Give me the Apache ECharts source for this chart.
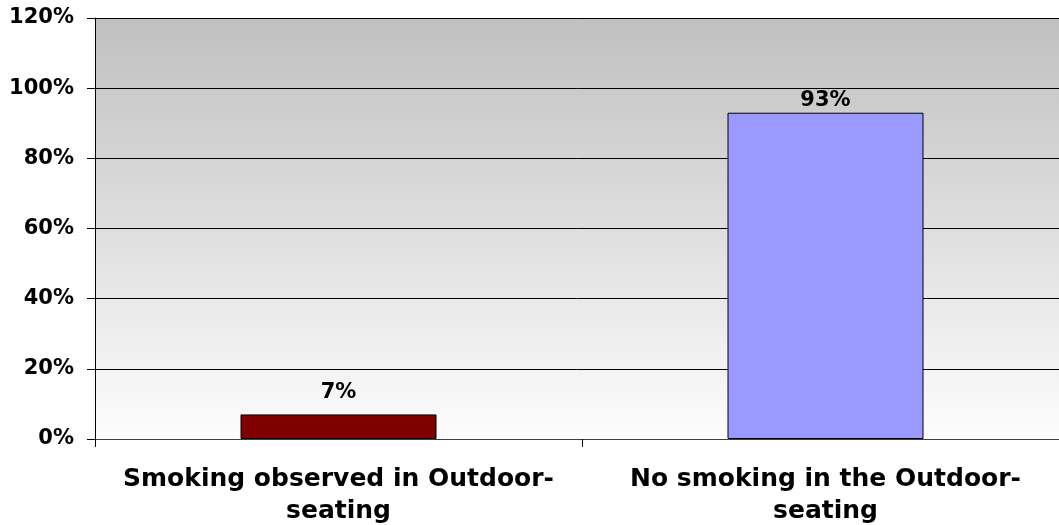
<!DOCTYPE html>
<html>
<head>
<meta charset="utf-8">
<script src="https://cdn.jsdelivr.net/npm/echarts@6/dist/echarts.min.js"></script>
<style>
  html, body { margin: 0; padding: 0; background: #ffffff; }
  #chart { width: 1059px; height: 525px; }
</style>
</head>
<body>
<div id="chart"></div>
<script>
// Share of observations, in percent
const categories = ['Smoking observed in Outdoor-\nseating', 'No smoking in the Outdoor-\nseating'];
const values = [7, 93];
const barColors = ['#800000', '#9999ff'];
const yTicks = [0, 20, 40, 60, 80, 100, 120];
// gap between each bar top and its value label
const labelGaps = [11, 2];

const chart = echarts.init(document.getElementById('chart'), null, { renderer: 'canvas' });
const font = 'DejaVu Sans, Liberation Sans, Arial, sans-serif';

chart.setOption({
  animation: false,
  grid: {
    left: 95, right: -10, top: 18, bottom: 86,
    outerBoundsMode: 'none',
    containLabel: false,
    show: true,
    borderWidth: 0,
    backgroundColor: new echarts.graphic.LinearGradient(0, 0, 0, 1, [
      { offset: 0, color: '#c0c0c0' },
      { offset: 1, color: '#fdfdfd' }
    ])
  },
  xAxis: {
    type: 'category',
    data: categories,
    axisLine: { lineStyle: { color: '#404040', width: 1 } },
    axisTick: { show: true, alignWithLabel: false, length: 8, lineStyle: { color: '#000' } },
    axisLabel: {
      color: '#000', fontFamily: font, fontWeight: 'bold', fontSize: 25,
      lineHeight: 32, margin: 24, interval: 0
    }
  },
  yAxis: {
    type: 'value',
    min: yTicks[0], max: yTicks[yTicks.length - 1], interval: 20,
    axisLine: { show: true, lineStyle: { color: '#000', width: 1 } },
    axisTick: { show: true, length: 8, lineStyle: { color: '#000' } },
    splitLine: { show: true, lineStyle: { color: '#000', width: 1 } },
    axisLabel: {
      color: '#000', fontFamily: font, fontWeight: 'bold', fontSize: 21,
      margin: 21, formatter: v => v + '%'
    }
  },
  series: [{
    type: 'bar',
    barWidth: 196,
    data: values.map((v, i) => ({
      value: v,
      itemStyle: { color: barColors[i], borderColor: '#000', borderWidth: 1 },
      label: { distance: labelGaps[i] }
    })),
    label: {
      show: true, position: 'top',
      color: '#000', fontFamily: font, fontWeight: 'bold', fontSize: 21,
      formatter: p => p.value + '%'
    }
  }]
});
</script>
</body>
</html>
